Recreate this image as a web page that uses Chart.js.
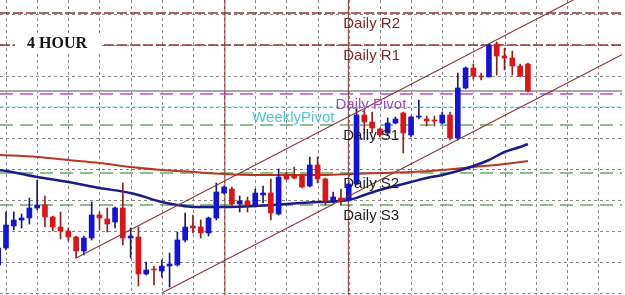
<!DOCTYPE html>
<html><head><meta charset="utf-8">
<script src="https://cdn.jsdelivr.net/npm/chart.js@4.4.1/dist/chart.umd.min.js"></script>
<style>html,body{margin:0;padding:0;background:#fff;overflow:hidden}</style>
</head><body>
<canvas id="c" width="625" height="295"></canvas>
<script>
// ---- DATA ----
const firstBar = -1;
const opens  = [1.3035,1.3052,1.3074,1.3080,1.3082,1.3092,1.3095,1.3083,1.3073,1.3069,1.3063,1.3049,1.3062,1.3085,1.3081,1.3078,1.3092,1.3062,1.3063,1.3026,1.3031,1.3029,1.3034,1.3035,1.3060,1.3074,1.3073,1.3067,1.3082,1.3107,1.3111,1.3096,1.3099,1.3095,1.3105,1.3107,1.3086,1.3124,1.3124,1.3124,1.3114,1.3135,1.3121,1.3099,1.3102,1.3100,1.3116,1.3185,1.3178,1.3171,1.3167,1.3177,1.3187,1.3165,1.3183,1.3181,1.3180,1.3177,1.3185,1.3162,1.3212,1.3232,1.3224,1.3223,1.3256,1.3244,1.3242,1.3234,1.3236];
const highs  = [1.3054,1.3088,1.3088,1.3086,1.3102,1.3120,1.3104,1.3084,1.3088,1.3072,1.3064,1.3064,1.3098,1.3088,1.3092,1.3093,1.3117,1.3072,1.3073,1.3038,1.3034,1.3040,1.3047,1.3068,1.3087,1.3085,1.3080,1.3083,1.3117,1.3114,1.3113,1.3104,1.3103,1.3111,1.3114,1.3121,1.3131,1.3128,1.3133,1.3125,1.3143,1.3143,1.3122,1.3108,1.3111,1.3117,1.3192,1.3190,1.3188,1.3172,1.3182,1.3183,1.3188,1.3184,1.3200,1.3184,1.3184,1.3188,1.3188,1.3227,1.3233,1.3236,1.3227,1.3256,1.3258,1.3252,1.3249,1.3236,1.3237];
const lows   = [1.3034,1.3050,1.3070,1.3072,1.3076,1.3090,1.3073,1.3069,1.3061,1.3059,1.3042,1.3045,1.3060,1.3070,1.3068,1.3072,1.3055,1.3042,1.3014,1.3025,1.3015,1.3023,1.3013,1.3034,1.3058,1.3067,1.3062,1.3064,1.3080,1.3106,1.3095,1.3088,1.3088,1.3093,1.3097,1.3080,1.3085,1.3120,1.3121,1.3112,1.3113,1.3117,1.3095,1.3097,1.3095,1.3099,1.3115,1.3167,1.3167,1.3163,1.3165,1.3176,1.3147,1.3163,1.3181,1.3174,1.3174,1.3176,1.3160,1.3160,1.3211,1.3221,1.3220,1.3223,1.3225,1.3230,1.3225,1.3223,1.3208];
const closes = [1.3052,1.3075,1.3080,1.3082,1.3092,1.3095,1.3083,1.3073,1.3069,1.3063,1.3049,1.3062,1.3085,1.3082,1.3076,1.3092,1.3062,1.3064,1.3026,1.3030,1.3030,1.3034,1.3036,1.3060,1.3073,1.3072,1.3067,1.3082,1.3108,1.3113,1.3096,1.3099,1.3095,1.3107,1.3107,1.3087,1.3123,1.3121,1.3122,1.3113,1.3135,1.3121,1.3099,1.3103,1.3099,1.3116,1.3185,1.3178,1.3172,1.3165,1.3177,1.3181,1.3167,1.3183,1.3184,1.3179,1.3179,1.3185,1.3162,1.3212,1.3232,1.3224,1.3223,1.3255,1.3244,1.3242,1.3234,1.3224,1.3209];

const maFastBars   = [-1,0,4,8,12,16,20,22,24,28,32,36,40,44,46,48,50,52,54,56,58,60,62,64,66,67];
const maFastValues = [1.3130,1.3129,1.3123,1.3118,1.3112,1.3107,1.3098,1.3095,1.3093,1.3093,1.3094,1.3096,1.3098,1.3100,1.3105,1.3110,1.3114,1.3118,1.3122,1.3125,1.3129,1.3134,1.3140,1.3148,1.3153,1.3156];
const maSlowBars   = [-1,4,8,12,16,20,24,28,32,36,40,44,48,52,56,60,64,67];
const maSlowValues = [1.3145,1.3143,1.3140,1.3137,1.3133,1.3130,1.3128,1.3126,1.3125,1.3125,1.3125,1.3126,1.3127,1.3128,1.3130,1.3133,1.3136,1.3139];

const levelNames  = ['Daily R2','Daily R1','Daily Pivot','WeeklyPivot','Daily S1','Daily S2','Daily S3'];
const levelPrices = [1.3287,1.3255,1.3206,1.3193,1.3175,1.3127,1.3095];
const bidPrice = 1.3209;

const channelUpper = [[9,1.3042],[80,1.3329]];
const channelLower = [[20,1.3007],[80,1.3249]];
const daySeparators = [28.1, 43.95];
const gridPrices = [1.3286,1.3255,1.3224,1.3193,1.3162,1.3131,1.3100,1.3069,1.3038,1.3007];
const gridEvery = 4;
const timeframeLabel = '4 HOUR';

// ---- STYLES ----
const X_MIN = -0.77, X_MAX = 79.08, Y_MIN = 1.3005, Y_MAX = 1.3300;
const levelStyles = [
  {line:'#8e3434', dash:[10,3], width:1.5, text:'#7a2a2a', at:43.3},
  {line:'#8e3434', dash:[10,3], width:1.5, text:'#7a2a2a', at:43.3},
  {line:'#c67ec8', dash:[13,7], width:2,   text:'#a24cb4', at:42.3},
  {line:'#62d0d8', dash:[4,3],  width:1.2, text:'#4cc6ce', at:31.6},
  {line:'#6aa86a', dash:[13,7], width:1.5, text:'#1c1c1c', at:43.3},
  {line:'#6aa86a', dash:[13,7], width:1.5, text:'#1c1c1c', at:43.3},
  {line:'#6aa86a', dash:[13,7], width:1.5, text:'#1c1c1c', at:43.3}
];
const UP_BODY = '#1414d8', DN_BODY = '#e01414', UP_WICK = '#1a1a70', DN_WICK = '#8a2222';

const barIdx = opens.map((_, k) => firstBar + k);
const isUp = opens.map((o, k) => closes[k] > o);

const datasets = [];
levelPrices.forEach((p, k) => {
  datasets.push({type:'line', data:[{x:X_MIN,y:p},{x:X_MAX,y:p}], borderColor:levelStyles[k].line,
    borderWidth:levelStyles[k].width, borderDash:levelStyles[k].dash, pointRadius:0, order:20});
});
datasets.push({type:'line', data:[{x:X_MIN,y:bidPrice},{x:X_MAX,y:bidPrice}], borderColor:'#a8a8a8', borderWidth:2, pointRadius:0, order:19});
daySeparators.forEach(s => datasets.push({type:'line', data:[{x:s,y:Y_MIN},{x:s,y:Y_MAX}], borderColor:'#8a3030', borderWidth:1, pointRadius:0, order:18}));
datasets.push({type:'line', data:maSlowBars.map((b,k)=>({x:b,y:maSlowValues[k]})), borderColor:'#b83622', borderWidth:2, pointRadius:0, cubicInterpolationMode:'monotone', order:9});
datasets.push({type:'line', data:maFastBars.map((b,k)=>({x:b,y:maFastValues[k]})), borderColor:'#1c1c88', borderWidth:2.5, pointRadius:0, cubicInterpolationMode:'monotone', order:8});
datasets.push({type:'bar', data:barIdx.map((b,k)=>({x:b,y:[lows[k],highs[k]]})), backgroundColor:isUp.map(u=>u?UP_WICK:DN_WICK),
  barThickness:1, grouped:false, borderWidth:0, order:6});
datasets.push({type:'bar', data:barIdx.map((b,k)=>({x:b,y:[opens[k],closes[k]]})), backgroundColor:isUp.map(u=>u?UP_BODY:DN_BODY),
  barThickness:5, grouped:false, borderWidth:0, minBarLength:1, order:5});
[channelUpper, channelLower].forEach(ch => datasets.push({type:'line', data:ch.map(p=>({x:p[0],y:p[1]})), borderColor:'#8a3636', borderWidth:1.1, pointRadius:0, order:3}));

const decor = {
  id:'decor',
  beforeDatasetsDraw(chart){
    const {ctx, chartArea:a, scales:{x,y}} = chart;
    ctx.save();
    ctx.fillStyle = '#fff'; ctx.fillRect(0,0,chart.width,chart.height);
    ctx.strokeStyle = '#858585'; ctx.lineWidth = 1; ctx.setLineDash([3,3]);
    ctx.beginPath();
    for (let b = 0; b <= X_MAX; b += gridEvery) { const px = Math.round(x.getPixelForValue(b))+0.5; ctx.moveTo(px,a.top); ctx.lineTo(px,a.bottom); }
    gridPrices.forEach(p => { const py = Math.round(y.getPixelForValue(p))+0.5; ctx.moveTo(a.left,py); ctx.lineTo(a.right,py); });
    ctx.stroke();
    ctx.restore();
  },
  afterDatasetsDraw(chart){
    const {ctx, scales:{x,y}} = chart;
    ctx.save();
    ctx.font = '15px "Liberation Sans", Arial, sans-serif';
    ctx.textBaseline = 'alphabetic';
    levelNames.forEach((n,k) => {
      ctx.fillStyle = levelStyles[k].text;
      ctx.fillText(n, x.getPixelForValue(levelStyles[k].at), y.getPixelForValue(levelPrices[k]) + 14.5);
    });
    ctx.fillStyle = '#fff'; ctx.fillRect(15, 36, 86, 15);
    ctx.fillStyle = '#111';
    ctx.font = 'bold 16px "Liberation Serif", "Times New Roman", serif';
    ctx.fillText(timeframeLabel, 27, 47.5);
    ctx.restore();
  }
};

new Chart(document.getElementById('c'), {
  type:'bar',
  data:{datasets},
  options:{
    responsive:false, animation:false, devicePixelRatio:1,
    layout:{padding:{left:0,top:0,bottom:0,right:3}},
    plugins:{legend:{display:false}, tooltip:{enabled:false}},
    scales:{
      x:{type:'linear', min:X_MIN, max:X_MAX, offset:false, display:false},
      y:{type:'linear', min:Y_MIN, max:Y_MAX, display:false}
    }
  },
  plugins:[decor]
});
</script>
</body></html>
